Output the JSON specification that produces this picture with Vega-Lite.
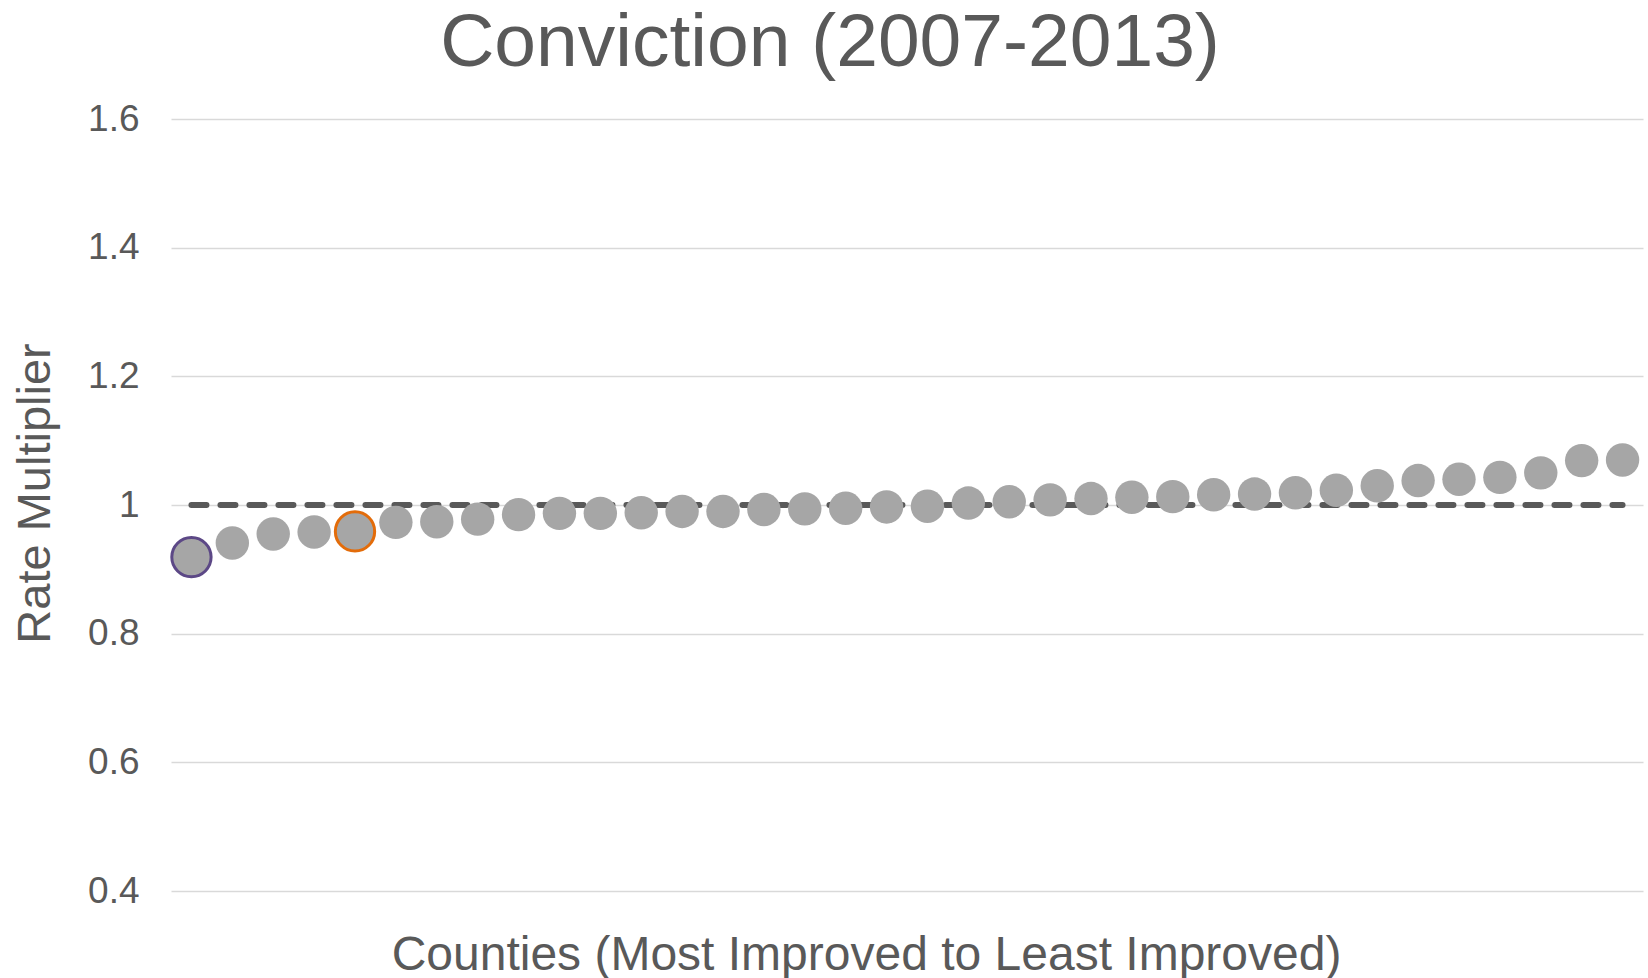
{
  "$schema": "https://vega.github.io/schema/vega-lite/v6.json",
  "autosize": {"type": "none"},
  "padding": {"left": 171, "top": 119, "right": 5, "bottom": 87},
  "width": 1472,
  "height": 772,
  "background": "white",
  "config": {
    "view": {"stroke": null},
    "font": "Liberation Sans"
  },
  "title": {
    "text": "Conviction (2007-2013)",
    "font": "Liberation Sans",
    "fontSize": 75,
    "fontWeight": "normal",
    "color": "#595959",
    "anchor": "middle",
    "frame": "group",
    "dx": -77,
    "offset": 18
  },
  "datasets": {
    "counties": [
      {"rank": 1, "rate": 0.919, "group": "first"},
      {"rank": 2, "rate": 0.941, "group": "other"},
      {"rank": 3, "rate": 0.955, "group": "other"},
      {"rank": 4, "rate": 0.958, "group": "other"},
      {"rank": 5, "rate": 0.959, "group": "second"},
      {"rank": 6, "rate": 0.973, "group": "other"},
      {"rank": 7, "rate": 0.974, "group": "other"},
      {"rank": 8, "rate": 0.978, "group": "other"},
      {"rank": 9, "rate": 0.985, "group": "other"},
      {"rank": 10, "rate": 0.987, "group": "other"},
      {"rank": 11, "rate": 0.987, "group": "other"},
      {"rank": 12, "rate": 0.988, "group": "other"},
      {"rank": 13, "rate": 0.990, "group": "other"},
      {"rank": 14, "rate": 0.990, "group": "other"},
      {"rank": 15, "rate": 0.993, "group": "other"},
      {"rank": 16, "rate": 0.994, "group": "other"},
      {"rank": 17, "rate": 0.995, "group": "other"},
      {"rank": 18, "rate": 0.997, "group": "other"},
      {"rank": 19, "rate": 0.998, "group": "other"},
      {"rank": 20, "rate": 1.003, "group": "other"},
      {"rank": 21, "rate": 1.005, "group": "other"},
      {"rank": 22, "rate": 1.008, "group": "other"},
      {"rank": 23, "rate": 1.010, "group": "other"},
      {"rank": 24, "rate": 1.012, "group": "other"},
      {"rank": 25, "rate": 1.013, "group": "other"},
      {"rank": 26, "rate": 1.016, "group": "other"},
      {"rank": 27, "rate": 1.017, "group": "other"},
      {"rank": 28, "rate": 1.019, "group": "other"},
      {"rank": 29, "rate": 1.023, "group": "other"},
      {"rank": 30, "rate": 1.030, "group": "other"},
      {"rank": 31, "rate": 1.038, "group": "other"},
      {"rank": 32, "rate": 1.040, "group": "other"},
      {"rank": 33, "rate": 1.043, "group": "other"},
      {"rank": 34, "rate": 1.050, "group": "other"},
      {"rank": 35, "rate": 1.069, "group": "other"},
      {"rank": 36, "rate": 1.070, "group": "other"}
    ],
    "reference": [
      {"from": 1, "to": 36, "level": 1}
    ]
  },
  "layer": [
    {
      "data": {"name": "reference"},
      "mark": {"type": "rule", "color": "#595959", "strokeWidth": 6, "strokeDash": [15, 14], "strokeCap": "round"},
      "encoding": {
        "x": {"field": "from", "type": "ordinal"},
        "x2": {"field": "to"},
        "y": {"field": "level", "type": "quantitative"}
      }
    },
    {
      "data": {"name": "counties"},
      "mark": {"type": "circle", "fill": "#a6a6a6", "opacity": 1, "fillOpacity": 1},
      "encoding": {
        "x": {
          "field": "rank",
          "type": "ordinal",
          "scale": {"type": "point", "padding": 0.5, "domain": [1,2,3,4,5,6,7,8,9,10,11,12,13,14,15,16,17,18,19,20,21,22,23,24,25,26,27,28,29,30,31,32,33,34,35,36]},
          "axis": {
            "title": "Counties (Most Improved to Least Improved)",
            "labels": false,
            "ticks": false,
            "domain": false,
            "grid": false,
            "titleFont": "Liberation Sans",
            "titleFontSize": 48,
            "titleFontWeight": "normal",
            "titleColor": "#595959",
            "titleX": 695,
            "titleY": 78,
            "titleBaseline": "alphabetic",
            "titleAlign": "center"
          }
        },
        "y": {
          "field": "rate",
          "type": "quantitative",
          "scale": {"domain": [0.4, 1.6], "nice": false, "zero": false},
          "axis": {
            "title": "Rate Multiplier",
            "values": [0.4, 0.6, 0.8, 1, 1.2, 1.4, 1.6],
            "format": "~g",
            "ticks": false,
            "domain": false,
            "grid": true,
            "gridColor": "#d9d9d9",
            "gridWidth": 1.3,
            "labelFont": "Liberation Sans",
            "labelFontSize": 37,
            "labelColor": "#595959",
            "labelPadding": 32,
            "titleFont": "Liberation Sans",
            "titleFontSize": 47,
            "titleFontWeight": "normal",
            "titleColor": "#595959",
            "titleX": -136,
            "titleY": 374,
            "titleAngle": -90,
            "titleBaseline": "middle",
            "titleAlign": "center"
          }
        },
        "size": {
          "field": "group",
          "type": "nominal",
          "scale": {"type": "ordinal", "domain": ["first", "second", "other"], "range": [1545, 1545, 1115]},
          "legend": null
        },
        "stroke": {
          "field": "group",
          "type": "nominal",
          "scale": {"domain": ["first", "second", "other"], "range": ["#5c4886", "#e36c0a", "#a6a6a6"]},
          "legend": null
        },
        "strokeWidth": {
          "field": "group",
          "type": "nominal",
          "scale": {"type": "ordinal", "domain": ["first", "second", "other"], "range": [3, 3, 0]},
          "legend": null
        }
      }
    }
  ]
}
